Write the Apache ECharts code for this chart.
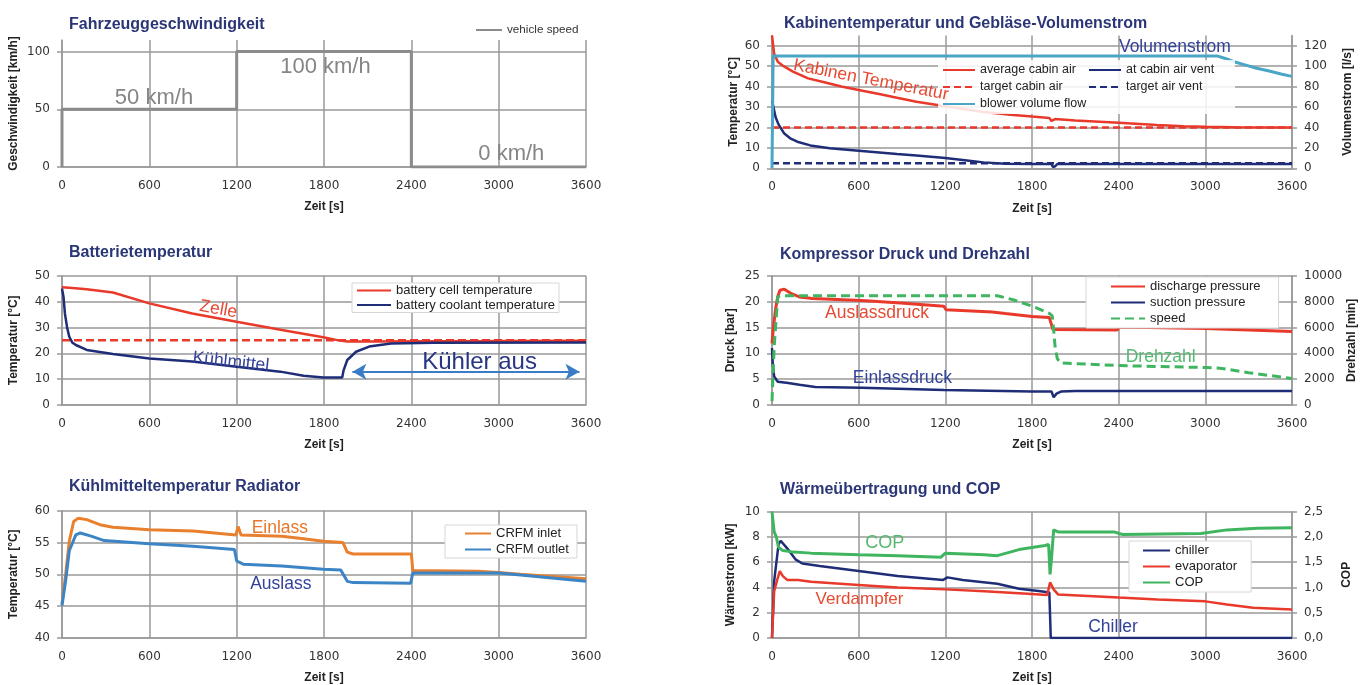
<!DOCTYPE html>
<html>
<head>
<meta charset="utf-8">
<title>Klimatisierung Simulation</title>
<script src="https://cdn.jsdelivr.net/npm/echarts@6/dist/echarts.min.js"></script>
<style>
    html, body { margin: 0; padding: 0; background: #fff; }
    #main { width: 1360px; height: 685px; }
</style>
</head>
<body>
<div id="main"></div>
<script>
// Zeitachse / Ticks
var timeTicks = [0, 600, 1200, 1800, 2400, 3000, 3600];
var speedTicks = [0, 50, 100];
var cabinTicks = [0, 10, 20, 30, 40, 50, 60];
var flowTicks = [0, 20, 40, 60, 80, 100, 120];
var batteryTicks = [0, 10, 20, 30, 40, 50];
var pressureTicks = [0, 5, 10, 15, 20, 25];
var rpmTicks = [0, 2000, 4000, 6000, 8000, 10000];
var radiatorTicks = [40, 45, 50, 55, 60];
var heatTicks = [0, 2, 4, 6, 8, 10];
var copTicks = [0, 0.5, 1, 1.5, 2, 2.5];

// Fahrzeuggeschwindigkeit [s, km/h]
var vehicleSpeed = [[0, 0], [0, 50], [1200, 50], [1200, 100], [2400, 100], [2400, 0], [3600, 0]];

// Kabine [s, °C] bzw. [s, l/s]
var cabinAvg = [[0, 65], [15, 56], [40, 52.2], [80, 50], [145, 47.3], [250, 44], [355, 42.2], [480, 40], [600, 38.3],
    [750, 36.2], [865, 34.5], [1000, 32.6], [1200, 30.4], [1350, 28.8], [1465, 27.6], [1650, 26.2], [1800, 25.3],
    [1920, 24.6], [1935, 23.2], [1945, 22.8], [1960, 24.1], [2100, 23.4], [2400, 22.3], [2665, 21.2], [2850, 20.6],
    [3000, 20.3], [3200, 20.1], [3600, 20]];
var cabinTarget = [[0, 20], [3600, 20]];
var ventAir = [[0, 33], [10, 30], [25, 25], [45, 21.5], [85, 17], [130, 14.5], [175, 13], [265, 11.2], [400, 9.8],
    [600, 8.6], [865, 7], [1000, 6.3], [1200, 5], [1350, 3.8], [1465, 2.9], [1615, 2.2], [1800, 2.1], [1935, 2.1],
    [1945, 0.6], [1960, 1], [1975, 2.1], [3600, 2.1]];
var ventTarget = [[0, 2.5], [3600, 2.5]];
var blowerFlow = [[0, 0], [8, 110], [3080, 110], [3150, 107], [3205, 104], [3280, 101], [3355, 98], [3450, 95],
    [3530, 92], [3600, 90]];

// Batterie [s, °C]
var cellTemp = [[0, 45.5], [50, 45.3], [170, 44.8], [350, 43.5], [600, 39.3], [895, 35.4], [1200, 32.2], [1510, 29],
    [1795, 26.2], [1900, 25], [1960, 24.6], [2100, 24.6], [3600, 24.8]];
var cellTarget = [[0, 25], [3600, 25]];
var coolantTemp = [[0, 45], [10, 42], [20, 35.4], [35, 30], [50, 26.4], [70, 24.2], [95, 23.2], [170, 21.3],
    [350, 19.7], [600, 18], [895, 16.8], [1200, 14.8], [1500, 12.9], [1660, 11.3], [1795, 10.6], [1925, 10.6],
    [1935, 13.5], [1960, 17.4], [2020, 20.6], [2110, 22.6], [2260, 23.8], [2555, 24.1], [3600, 24.2]];

// Kompressor [s, bar] bzw. [s, 1/min]
var dischargeP = [[0, 11.9], [10, 15], [24, 18.4], [40, 21], [55, 22.2], [85, 22.4], [130, 21.6], [190, 20.9],
    [280, 20.6], [620, 20.2], [890, 19.7], [1190, 19.1], [1205, 18.4], [1525, 18], [1615, 17.7], [1800, 17.1],
    [1920, 16.9], [1945, 14.6], [2390, 14.5], [2405, 15.1], [3000, 14.8], [3300, 14.5], [3600, 14.2]];
var suctionP = [[0, 11], [5, 8], [15, 5.5], [40, 4.5], [100, 4.3], [190, 3.9], [300, 3.5], [620, 3.35], [1190, 2.9],
    [1800, 2.6], [1935, 2.6], [1950, 1.5], [1970, 2.2], [2000, 2.6], [2100, 2.7], [3600, 2.7]];
var compSpeed = [[0, 300], [15, 4500], [40, 8380], [70, 8450], [1560, 8450], [1675, 8120], [1800, 7650], [1920, 7090],
    [1940, 6900], [1950, 5800], [1960, 4500], [1975, 3600], [1995, 3250], [2100, 3200], [2400, 3050], [3000, 2900],
    [3100, 2850], [3300, 2500], [3600, 2050]];

// Radiator [s, °C]
var crfmInlet = [[0, 45.4], [25, 50], [50, 55.2], [80, 58.3], [110, 58.8], [170, 58.6], [260, 57.8], [350, 57.4],
    [600, 57], [900, 56.8], [1195, 56.2], [1210, 57.5], [1230, 56.2], [1510, 56], [1660, 55.6], [1795, 55.2],
    [1930, 55], [1960, 53.5], [2000, 53.2], [2400, 53.2], [2410, 50.6], [2860, 50.5], [3000, 50.3], [3150, 50],
    [3600, 49.3]];
var crfmOutlet = [[0, 45.1], [25, 49], [50, 53.7], [95, 56.2], [125, 56.5], [200, 56], [290, 55.3], [600, 54.8],
    [900, 54.4], [1185, 53.9], [1200, 52.1], [1245, 51.6], [1510, 51.3], [1795, 50.8], [1915, 50.7], [1960, 48.9],
    [2000, 48.7], [2395, 48.6], [2410, 50.2], [3000, 50.2], [3150, 49.9], [3600, 48.9]];

// Waermeuebertragung [s, kW] bzw. [s, COP]
var chillerQ = [[0, 0], [15, 4.5], [45, 7.4], [60, 7.7], [105, 7.1], [165, 6.2], [210, 5.9], [330, 5.7], [600, 5.3],
    [870, 4.9], [1185, 4.6], [1215, 4.8], [1320, 4.6], [1560, 4.3], [1710, 3.9], [1860, 3.7], [1920, 3.6],
    [1930, 0], [3600, 0]];
var evaporatorQ = [[0, 0], [15, 3.7], [36, 4.6], [54, 5.3], [75, 4.9], [105, 4.6], [180, 4.6], [270, 4.45],
    [600, 4.2], [870, 4], [1200, 3.85], [1470, 3.7], [1770, 3.5], [1905, 3.4], [1925, 4.4], [1950, 3.85],
    [1980, 3.45], [2400, 3.2], [2670, 3.05], [3000, 2.9], [3150, 2.65], [3330, 2.4], [3600, 2.25]];
var copValues = [[0, 2.5], [15, 2.1], [30, 2], [45, 1.8], [75, 1.73], [150, 1.7], [270, 1.68], [600, 1.65],
    [870, 1.63], [1170, 1.6], [1200, 1.68], [1470, 1.65], [1560, 1.63], [1710, 1.75], [1890, 1.83], [1915, 1.85],
    [1925, 1.26], [1935, 1.58], [1950, 2.14], [1980, 2.1], [2370, 2.1], [2400, 2.07], [2430, 2.05], [2970, 2.07],
    [3150, 2.14], [3360, 2.17], [3600, 2.18]];

// Beschriftungen im Diagramm [x, y]
var notes = [
    { g: 0, y: 0, pos: [632, 60], text: '50 km/h', color: '#858585', size: 22, rot: 0 },
    { g: 0, y: 0, pos: [1810, 87], text: '100 km/h', color: '#858585', size: 22, rot: 0 },
    { g: 0, y: 0, pos: [3087, 11], text: '0 km/h', color: '#858585', size: 22, rot: 0 },
    { g: 1, y: 1, pos: [685, 43.2], text: 'Kabinen Temperatur', color: '#e64a32', size: 17.5, rot: -11 },
    { g: 1, y: 1, pos: [2789, 59.2], text: 'Volumenstrom', color: '#33429a', size: 17.5, rot: 0 },
    { g: 2, y: 3, pos: [1074, 37], text: 'Zelle', color: '#e64a32', size: 17.5, rot: -10 },
    { g: 2, y: 3, pos: [1160, 16.7], text: 'Kühlmittel', color: '#33429a', size: 17.5, rot: -6 },
    { g: 2, y: 3, pos: [2869, 16.5], text: 'Kühler aus', color: '#263585', size: 24, rot: 0 },
    { g: 3, y: 4, pos: [727, 17.7], text: 'Auslassdruck', color: '#e64a32', size: 17.5, rot: 0 },
    { g: 3, y: 4, pos: [903, 5.15], text: 'Einlassdruck', color: '#33429a', size: 17.5, rot: 0 },
    { g: 3, y: 4, pos: [2691, 9.3], text: 'Drehzahl', color: '#55b971', size: 17.5, rot: 0 },
    { g: 4, y: 6, pos: [1497, 57.3], text: 'Einlass', color: '#e8772b', size: 17.5, rot: 0 },
    { g: 4, y: 6, pos: [1503, 48.5], text: 'Auslass', color: '#33429a', size: 17.5, rot: 0 },
    { g: 5, y: 7, pos: [780, 7.5], text: 'COP', color: '#55b971', size: 18, rot: 0 },
    { g: 5, y: 7, pos: [606, 3.06], text: 'Verdampfer', color: '#e64a32', size: 17, rot: 0 },
    { g: 5, y: 7, pos: [2361, 0.84], text: 'Chiller', color: '#33429a', size: 17.5, rot: 0 }
];
// Pfeil "Kuehler aus"
var coolerOffArrow = [[1995, 12.9], [3555, 12.9]];

var RED = '#e8392b', NAVY = '#1f2d78', CYAN = '#4aa6c6', GREEN = '#3fb560',
    ORANGE = '#e9802e', BLUE = '#3b85c6', SPEEDGRAY = '#8c8c8c', GRID = '#999999';
var FONT = '"Liberation Sans", Arial, sans-serif';
var TICKFONT = '"DejaVu Sans", Verdana, sans-serif';

var chart = echarts.init(document.getElementById('main'), null, { renderer: 'canvas' });

var grids = [
    { left: 62, top: 40, width: 524, height: 127 },
    { left: 772, top: 35.5, width: 520, height: 132.8 },
    { left: 62, top: 275.7, width: 524, height: 129.3 },
    { left: 772, top: 275.7, width: 520, height: 129.3 },
    { left: 62, top: 510.7, width: 524, height: 129.3 },
    { left: 772, top: 511.7, width: 520, height: 127.3 }
];

var nameStyle = { fontFamily: FONT, fontWeight: 'bold', fontSize: 12, color: '#222' };
var tickLabel = { fontFamily: TICKFONT, fontSize: 12, color: '#333' };

function plainFmt(v) {
    return String(v);
}

function commaFmt(v) {
    return v.toFixed(1).replace('.', ',');
}

function xAxisFor(g) {
    return {
        type: 'value', gridIndex: g, min: 0, max: 3600, interval: 600,
        name: 'Zeit [s]', nameLocation: 'middle', nameGap: 34, nameTextStyle: nameStyle,
        axisLine: { show: true, onZero: false, lineStyle: { color: GRID, width: 1.5 } },
        axisTick: { show: false, customValues: timeTicks },
        axisLabel: Object.assign({ margin: 13, customValues: timeTicks, formatter: plainFmt }, tickLabel),
        splitLine: { show: true, lineStyle: { color: GRID, width: 1.5 } }
    };
}

function yAxisFor(g, side, min, max, ticks, name, gap, fmt) {
    return {
        type: 'value', gridIndex: g, position: side, min: min, max: max, interval: ticks[1] - ticks[0],
        name: name, nameLocation: 'middle', nameGap: gap, nameRotate: 90, nameTextStyle: nameStyle,
        axisLine: { show: true, onZero: false, lineStyle: { color: GRID, width: 1.5 } },
        axisTick: { show: true, length: 5, customValues: ticks, lineStyle: { color: GRID, width: 1.5 } },
        axisLabel: Object.assign({ margin: 12, customValues: ticks, formatter: fmt || plainFmt }, tickLabel),
        splitLine: { show: side === 'left', lineStyle: { color: GRID, width: 1.5 } }
    };
}

function line(name, data, xi, yi, color, width, dash) {
    return {
        type: 'line', name: name, data: data, xAxisIndex: xi, yAxisIndex: yi,
        symbol: 'none', animation: false, silent: true,
        lineStyle: { color: color, width: width, type: dash || 'solid' },
        itemStyle: { color: color }
    };
}

function note(n) {
    return {
        type: 'scatter', name: 'note ' + n.text, xAxisIndex: n.g, yAxisIndex: n.y,
        data: [n.pos], symbolSize: 1, silent: true, animation: false, z: 5,
        itemStyle: { color: 'rgba(0,0,0,0)' },
        label: {
            show: true, position: ['50%', '50%'], align: 'center', verticalAlign: 'middle',
            formatter: n.text, rotate: n.rot, opacity: 1,
            fontFamily: FONT, fontSize: n.size, color: n.color
        }
    };
}

function legendFor(names, extra) {
    return Object.assign({
        data: names, selectedMode: false,
        itemWidth: 30, itemHeight: 12, itemGap: 2,
        itemStyle: { opacity: 0 },
        textStyle: { fontFamily: FONT, fontSize: 13, color: '#222', lineHeight: 13 }
    }, extra);
}

var titleStyle = { fontFamily: FONT, fontWeight: 'bold', fontSize: 16, color: '#2a3676' };
function titleAt(text, left, top) {
    return { text: text, left: left, top: top, padding: 0, textStyle: titleStyle };
}

var series = [
    line('vehicle speed', vehicleSpeed, 0, 0, SPEEDGRAY, 3),

    line('average cabin air', cabinAvg, 1, 1, RED, 2.5),
    line('at cabin air vent', ventAir, 1, 1, NAVY, 2.5),
    line('target cabin air', cabinTarget, 1, 1, RED, 2.5, [7, 4]),
    line('target air vent', ventTarget, 1, 1, NAVY, 2.5, [7, 4]),
    line('blower volume flow', blowerFlow, 1, 2, CYAN, 3),

    line('cell target', cellTarget, 2, 3, RED, 2.5, [8, 4]),
    line('battery cell temperature', cellTemp, 2, 3, RED, 2.5),
    line('battery coolant temperature', coolantTemp, 2, 3, NAVY, 2.5),

    line('discharge pressure', dischargeP, 3, 4, RED, 3),
    line('suction pressure', suctionP, 3, 4, NAVY, 2.5),
    line('speed', compSpeed, 3, 5, GREEN, 3, [9, 5]),

    line('CRFM inlet', crfmInlet, 4, 6, ORANGE, 3),
    line('CRFM outlet', crfmOutlet, 4, 6, BLUE, 3),

    line('chiller', chillerQ, 5, 7, NAVY, 2.5),
    line('evaporator', evaporatorQ, 5, 7, RED, 2.5),
    line('COP', copValues, 5, 8, GREEN, 3)
];

notes.forEach(function (n) {
    series.push(note(n));
});

// Doppelpfeil im Batteriediagramm
series.push({
    type: 'line', name: 'cooler off', xAxisIndex: 2, yAxisIndex: 3, data: [], silent: true, animation: false,
    markLine: {
        silent: true, animation: false, symbol: ['arrow', 'arrow'], symbolSize: [12, 14],
        label: { show: false },
        lineStyle: { color: '#3a7dc6', width: 2, type: 'solid' },
        data: [[{ coord: coolerOffArrow[0] }, { coord: coolerOffArrow[1] }]]
    }
});

var option = {
    backgroundColor: '#fff',
    animation: false,
    title: [
        titleAt('Fahrzeuggeschwindigkeit', 69, 17),
        titleAt('Kabinentemperatur und Gebläse-Volumenstrom', 784, 16),
        titleAt('Batterietemperatur', 69, 245),
        titleAt('Kompressor Druck und Drehzahl', 780, 247),
        titleAt('Kühlmitteltemperatur Radiator', 69, 479),
        titleAt('Wärmeübertragung und COP', 780, 482)
    ],
    legend: [
        legendFor(['vehicle speed'], {
            left: 475, top: 24, padding: 0, itemWidth: 26,
            textStyle: { fontFamily: FONT, fontSize: 11.7, color: '#333' }
        }),
        legendFor(['average cabin air', 'at cabin air vent', 'target cabin air', 'target air vent', 'blower volume flow'], {
            left: 938, top: 60, width: 290, padding: [3, 4, 3, 4], itemWidth: 32, itemGap: 3,
            backgroundColor: 'rgba(255,255,255,0.85)',
            textStyle: { fontFamily: FONT, fontSize: 12.5, color: '#222', width: 105, lineHeight: 14 }
        }),
        legendFor(['battery cell temperature', 'battery coolant temperature'], {
            orient: 'vertical', left: 352, top: 283, padding: [1, 4, 1, 4], itemWidth: 34, itemGap: 1.5,
            backgroundColor: '#fff', borderColor: '#d6d6d6', borderWidth: 1
        }),
        legendFor(['discharge pressure', 'suction pressure', 'speed'], {
            orient: 'vertical', left: 1086, top: 277, padding: [3, 18, 3, 24], itemWidth: 34, itemGap: 3,
            backgroundColor: '#fff', borderColor: '#d6d6d6', borderWidth: 1
        }),
        legendFor(['CRFM inlet', 'CRFM outlet'], {
            orient: 'vertical', left: 445, top: 525, padding: [2, 8, 2, 19], itemWidth: 26, itemGap: 3,
            backgroundColor: '#fff', borderColor: '#d6d6d6', borderWidth: 1
        }),
        legendFor(['chiller', 'evaporator', 'COP'], {
            orient: 'vertical', left: 1129, top: 541, padding: [3, 14, 3, 13], itemWidth: 27, itemGap: 3,
            backgroundColor: '#fff', borderColor: '#d6d6d6', borderWidth: 1
        })
    ],
    grid: grids,
    xAxis: [xAxisFor(0), xAxisFor(1), xAxisFor(2), xAxisFor(3), xAxisFor(4), xAxisFor(5)],
    yAxis: [
        yAxisFor(0, 'left', 0, 110, speedTicks, 'Geschwindigkeit [km/h]', 42),
        yAxisFor(1, 'left', 0, 65, cabinTicks, 'Temperatur [°C]', 32),
        yAxisFor(1, 'right', 0, 130, flowTicks, 'Volumenstrom [l/s]', 50),
        yAxisFor(2, 'left', 0, 50, batteryTicks, 'Temperatur [°C]', 42),
        yAxisFor(3, 'left', 0, 25, pressureTicks, 'Druck [bar]', 35),
        yAxisFor(3, 'right', 0, 10000, rpmTicks, 'Drehzahl [min]', 50),
        yAxisFor(4, 'left', 40, 60, radiatorTicks, 'Temperatur [°C]', 42),
        yAxisFor(5, 'left', 0, 10, heatTicks, 'Wärmestrom [kW]', 35),
        yAxisFor(5, 'right', 0, 2.5, copTicks, 'COP', 49, commaFmt)
    ],
    series: series
};

chart.setOption(option);
</script>
</body>
</html>
